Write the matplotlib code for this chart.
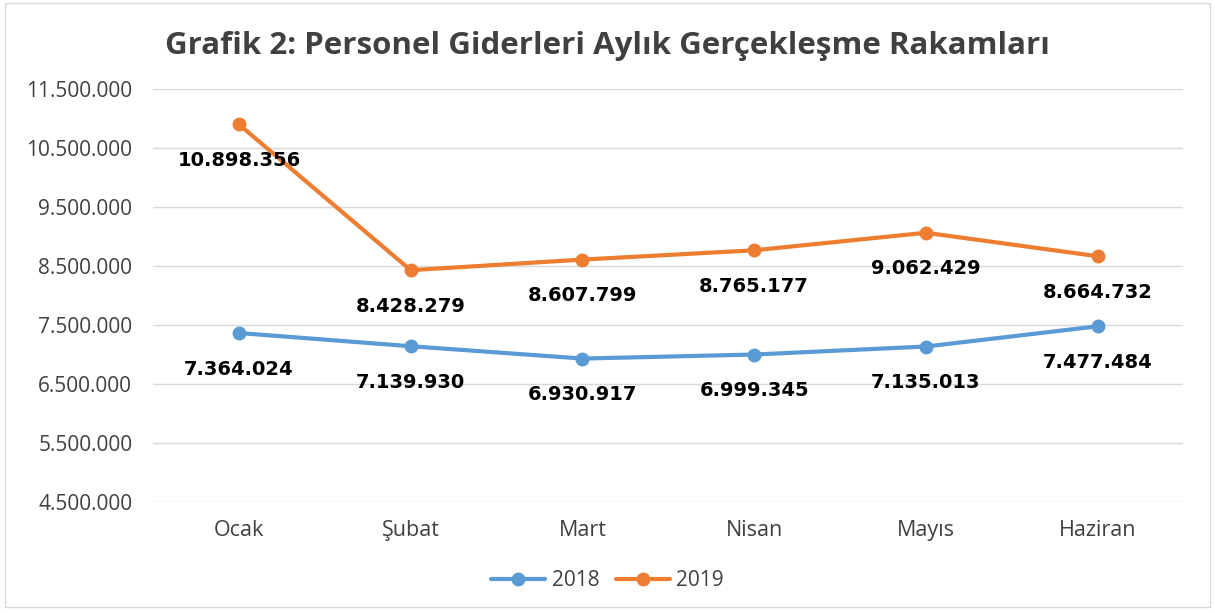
import matplotlib.pyplot as plt
from matplotlib.patches import Rectangle

# Aylık personel giderleri
aylar = ['Ocak', 'Şubat', 'Mart', 'Nisan', 'Mayıs', 'Haziran']
y2018 = [7364024, 7139930, 6930917, 6999345, 7135013, 7477484]
y2019 = [10898356, 8428279, 8607799, 8765177, 9062429, 8664732]
yticks = [4500000, 5500000, 6500000, 7500000, 8500000, 9500000, 10500000, 11500000]

plt.rcParams['font.family'] = ['Open Sans', 'DejaVu Sans']


def fmt(v):
    return f'{v:,}'.replace(',', '.')


fig = plt.figure(figsize=(12.15, 6.13), dpi=100)
ax = fig.add_axes([0.126, 0.181, 0.848, 0.674])

x = range(len(aylar))
ax.plot(x, y2018, color='#5B9BD5', lw=3, marker='o', ms=9, label='2018', solid_capstyle='round')
ax.plot(x, y2019, color='#ED7D31', lw=3, marker='o', ms=9, label='2019', solid_capstyle='round')

# veri etiketleri
for seri in (y2018, y2019):
    for xi, v in zip(x, seri):
        ax.annotate(fmt(v), (xi, v), xytext=(0, -36), textcoords='offset pixels',
                    ha='center', va='center', fontsize=14, fontweight='bold',
                    color='black', family='DejaVu Sans')

ax.set_xlim(-0.5, 5.5)
ax.set_ylim(4500000, 11500000)
ax.set_yticks(yticks)
ax.set_yticklabels([fmt(t) for t in yticks], fontsize=15, color='#404040')
ax.set_xticks(list(x))
ax.set_xticklabels(aylar, fontsize=15.5, color='#404040')
ax.tick_params(axis='y', length=0, pad=15)
ax.tick_params(axis='x', length=0, pad=13)
ax.grid(axis='y', color='#D9D9D9', lw=1)
ax.set_axisbelow(True)
for s in ax.spines.values():
    s.set_visible(False)

fig.text(0.5, 0.925, 'Grafik 2: Personel Giderleri Aylık Gerçekleşme Rakamları',
         ha='center', va='center', fontsize=22.5, fontweight='bold', color='#404040')

ax.legend(loc='center', bbox_to_anchor=(0.5, 0.053), bbox_transform=fig.transFigure,
          ncol=2, frameon=False, fontsize=15, handlelength=2.6, handletextpad=0.3,
          columnspacing=0.8, labelcolor='#404040')

fig.patches.append(Rectangle((0.004, 0.01), 0.992, 0.985, transform=fig.transFigure,
                             fill=False, edgecolor='#D9D9D9', lw=1))

fig.savefig('out.png')
